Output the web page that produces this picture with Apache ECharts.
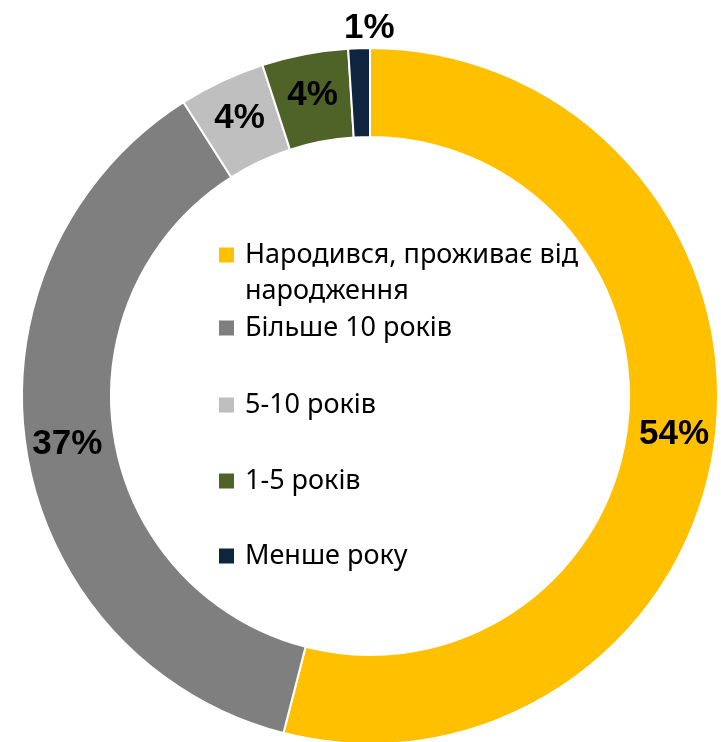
<!DOCTYPE html>
<html>
<head>
<meta charset="utf-8">
<script src="https://cdn.jsdelivr.net/npm/echarts@6/dist/echarts.min.js"></script>
<style>
  html, body { margin: 0; padding: 0; background: #fff; }
  #chart { width: 721px; height: 742px; }
</style>
</head>
<body>
<div id="chart"></div>
<script>
// categories and shares (%)
var categories = [
  "Народився, проживає від народження",
  "Більше 10 років",
  "5-10 років",
  "1-5 років",
  "Менше року"
];
var shares = [54, 37, 4, 4, 1];
var colors = ["#FFC000", "#7F7F7F", "#BFBFBF", "#4F6228", "#0F243E"];

var myChart = echarts.init(document.getElementById("chart"));

// one legend per item so the vertical spacing can follow the original
var legendTops = [201, 310, 387, 463, 538];
var legends = categories.map(function (name, i) {
  return {
    data: [name],
    orient: "vertical",
    left: 219,
    top: legendTops[i],
    padding: 0,
    icon: "rect",
    itemWidth: 15,
    itemHeight: 15,
    selectedMode: false,
    itemStyle: { borderWidth: 0 },
    // long name wraps; a blank first line keeps the marker on the first text line
    formatter: function (n) {
      return n.indexOf(" народження") > -1
        ? "\n" + n.replace(" народження", "\nнародження")
        : n;
    },
    textStyle: {
      color: "#000",
      fontFamily: "Noto Sans",
      fontSize: 27,
      lineHeight: 36,
      padding: [0, 0, 0, 6]
    }
  };
});

var option = {
  animation: false,
  legend: legends,
  series: [
    {
      type: "pie",
      center: [370, 396],
      radius: [259, 348],
      startAngle: 90,
      clockwise: true,
      color: colors,
      itemStyle: { borderColor: "#fff", borderWidth: 2 },
      label: {
        show: true,
        position: "inside",
        formatter: "{c}%",
        color: "#000",
        fontFamily: "Liberation Sans",
        fontWeight: "bold",
        fontSize: 35
      },
      labelLine: { show: false },
      // the smallest slice has its label above the ring
      labelLayout: function (params) {
        if (params.dataIndex === shares.length - 1) {
          return { dx: 9, dy: -61 };
        }
      },
      data: categories.map(function (name, i) {
        return { name: name, value: shares[i] };
      })
    }
  ]
};

myChart.setOption(option);
</script>
</body>
</html>
